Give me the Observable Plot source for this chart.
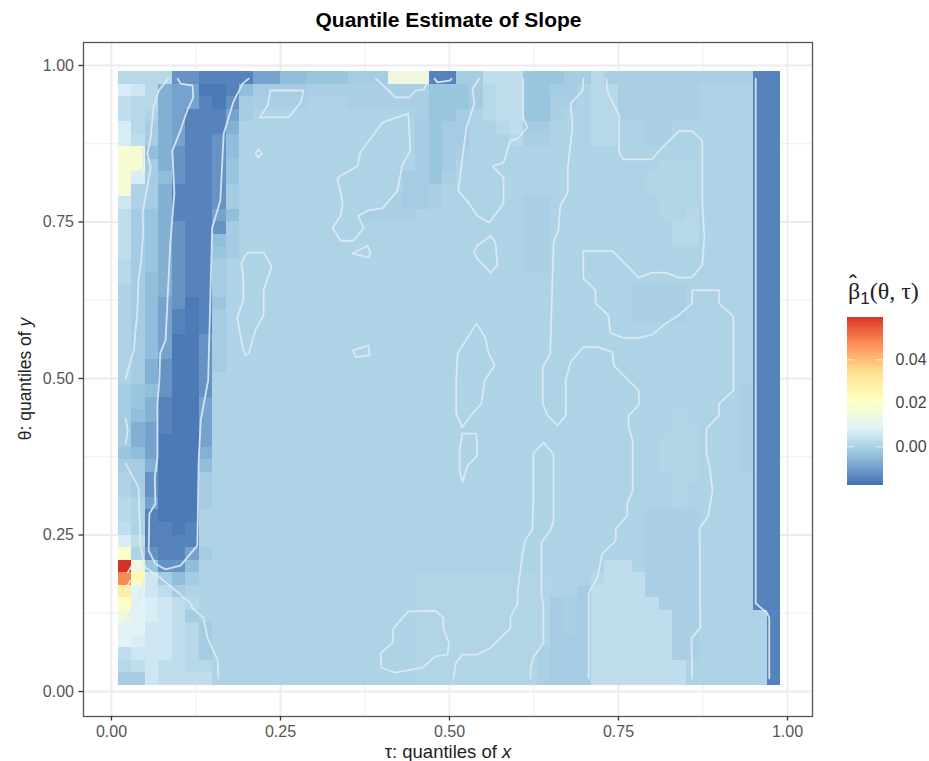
<!DOCTYPE html>
<html>
<head>
<meta charset="utf-8">
<script src="https://cdn.jsdelivr.net/npm/d3@7"></script>
<script src="https://cdn.jsdelivr.net/npm/@observablehq/plot@0.6"></script>
<style>
html,body{margin:0;padding:0;background:#fff;}
#wrap{position:relative;width:929px;height:761px;font-family:"Liberation Sans",Arial,sans-serif;overflow:hidden;}
#wrap svg{display:block;}
.lab{position:absolute;white-space:nowrap;}
</style>
</head>
<body>
<div id="wrap"></div>
<script>
// value of each shade letter used in the grid below
const levels = {A:-0.0169,B:-0.0152,C:-0.0124,D:-0.0097,E:-0.0075,F:-0.005,G:-0.0035,H:-0.0017,h:-0.0009,I:-0.0002,i:0.0003,J:0.0013,K:0.0026,L:0.0049,M:0.0066,N:0.0085,O:0.0138,o:0.0165,P:0.0192,Q:0.023,R:0.028,S:0.034,T:0.041,U:0.047,V:0.0595};
// grid, top row (theta = 0.98) to bottom row (theta = 0.02); short rows continue with "I"
const rowsLeft = [
"JJJJCCBBBBDDFF","MLJEDDAABFHHHH","KJJEDDBACHhhhh","KJIEDBBBDHIIII","MJHEDBBBEIIIII","MKHEDBBCFIIIII",
"ooFECBBCFIIIII","ooHECBBCGIIIII","oMHFCBBCGIIIII","oIHEBBBCHIIIII","LIHEBBBCHIIIII","KHGEBBBDFIIIII",
"KHGECBBCHIIIII","KHGECBBFHIIIII","KHGECBBGHIIIII","JHGECBBHIIIIII","JHFECBBHIIIIII","IHFECBBHIIIIII",
"IHFDCABGIIIIII","IHFDBABHIIIIII","IHFDBABHIIIIII","IHFDAACHIIIIII","IHFDAACHIIIIII","IHECAACHIIIIII",
"IHECAACIIIIIII","HGFCAACIIIIIII","HGEBAADIIIIIII","HFEBAADIIIIIII","HEDBAADIIIIIII","HEDAAADIIIIIII",
"GFDAAAEIIIIIII","HHEAAAFIIIIIII","IHCAAAHIIIIIII","IHCAAAHIIIIIII","JIDAAAHIIIIIII","JIBAAAIIIIIIII",
"KIBBABIIIIIIII","MKBBBBIIIIIIII","PICBBDHIIIIIII","VOGCCFIIIIIIII","UQLHFHIIIIIIII","RNLKHIIIIIIIII",
"PNMLKJIIIIIIII","ONMLKHIIIIIIII","NNLLKJHIIIIIII","NMLLKJHIIIIIII","KLLLKJHIIIIIII","JKLKKJJIIIIIII",
"HHLKKKKIIIIIII"];
const rowsMid = [
"GGGHHHOOOBBHHKKKGGGH","hhhhhhhhhGGGHJKKGGHH","IIIhhhhhhGGGHJKKGGhh","IIIIIIIIhGGHIJKKGGhI","IIIIIIIIHGHHIIJKHHII","IIIIIIIIHGHHIIIJhhII",
"IIIIIIIIHGHh","IIIIIIIIHGHI","IIIIIIIHHGh","IIIIIIIHHh","IIIIIIhHHhIIIIIIhh","IIIIhhhhIIIIIIIIhh",
"IIIIIIIIIIIIIIIIhh","IIIIIIIIIIIIIIIIhh","IIIIIIIIIIIIIIIIhh","IIIIIIIIIIIIIIIIhh","","",
"","","","","","",
"","","","","","",
"","","","","","",
"","","","","IIIIIIIIiiiiiiiiii","IIIIIIIIiiiiiiiiii",
"IIIIIIIIiiiiiiiiiiHh","IIIIIIIIiiiiiiiiiiHh","IIIIIIIIiiiiiiiiiiHh","IIIIIIIIiiiiiiiiiiHH","IIIIIIIIiiiiiiiiihHH","IIIIIIIIiiiiiiiiihHH",
"IIIIIIIIiiiiiiiiihHH"];
const rowsRight = [
"HJhhhhhhhhhhh","IJJhhhhhhIIII","IJJhhhhhhIIII","IJJhhhhhhIIII","IJJIIhhIIIIII","IJJIIhhIIIIII",
"","IIIIIIiii","IIIIIiiii","IIIIIiiii","IIIIIIiii","IIIIIIiiJ",
"IIIIIIIJJ","IIIIIIIJJ","","","","IIIIhhhh",
"IIIIhhhh","IIIIhhhh","","","","",
"","IIIIIIIIIIIIh","IIIIIIIIIIIIh","IIIIIIIiIIIIh","IIIIIIIiiIIIh","IIIIIIiiiIIIh",
"IIIIIIiiiIIIh","IIIIIIiiiIIIh","IIIIIIIii","IIIIIIIi","IIIIIIIi","IIIIIhhhh",
"IIIIIhhhh","IIIIIhhhh","IIIIIhhhh","IIKKIhhhh","IJKKKhhhh","HKKKKhhhh",
"HKKKKKhhh","HKKKKKKhh","HKKKKKKhh","HKKKKKKhh","HKKKKKKhh","HKKKKKKKI",
"HKKKKKKKI"];
// the two last columns, rows 0-42 are dark, then the inner one turns pale
const edgeDarkRows = 43;
const colorStops = [-0.0178,-0.0049,0.0080,0.0208,0.0337,0.0466,0.0595];
const colorRange = ["#4575b4","#91bfdb","#e0f3f8","#ffffbf","#fee090","#fc8d59","#d73027"];
const xTicks = [0,0.25,0.5,0.75,1];
const xMinor = [0.125,0.375,0.625,0.875];
const legendTicks = [0,0.02,0.04];

// contour paths as [tau, theta]
const cA=[[.084,.979],[.070,.960],[.062,.933],[.058,.885],[.053,.859],[.058,.837],[.046,.764],[.047,.736],[.044,.688],[.040,.657],[.038,.604],[.033,.545],[.021,.500]];
const cB=[[.021,.436],[.024,.417],[.021,.396]];
const cC=[[.021,.364],[.040,.326],[.043,.230],[.050,.198],[.072,.182],[.117,.141],[.120,.133],[.136,.118],[.142,.086],[.157,.050],[.158,.021]];
const cD=[[.098,.979],[.102,.971],[.120,.968],[.121,.949],[.112,.928],[.102,.896],[.090,.864],[.093,.796],[.087,.716],[.080,.561],[.072,.540],[.071,.500],[.068,.460],[.068,.374],[.064,.342],[.065,.300],[.056,.284],[.055,.225],[.065,.204],[.080,.195],[.102,.201],[.127,.233],[.129,.369],[.132,.433],[.143,.497],[.149,.741],[.161,.784],[.166,.891],[.180,.941],[.194,.971],[.203,.979]];
const cE=[[.235,.960],[.284,.960],[.280,.941],[.262,.917],[.219,.917],[.231,.936],[.235,.960]];
const cF=[[.217,.866],[.223,.859],[.217,.853],[.213,.859],[.217,.866]];
const cG=[[.201,.701],[.225,.701],[.237,.679],[.225,.641],[.225,.601],[.213,.577],[.203,.540],[.198,.537],[.194,.550],[.186,.597],[.195,.625],[.195,.661],[.192,.684],[.201,.701]];
const cH=[[.439,.923],[.442,.864],[.430,.840],[.423,.800],[.401,.772],[.379,.768],[.365,.760],[.373,.740],[.358,.720],[.339,.720],[.327,.741],[.339,.760],[.342,.780],[.339,.797],[.334,.819],[.339,.824],[.364,.839],[.368,.861],[.401,.909],[.439,.923]];
const cI=[[.357,.700],[.379,.712],[.383,.701],[.380,.693],[.357,.700]];
const cJ=[[.357,.545],[.380,.553],[.382,.537],[.361,.534],[.357,.545]];
const cK=[[.391,.979],[.420,.949],[.441,.949],[.450,.960],[.462,.962],[.469,.976]];
const cL=[[.478,.979],[.482,.973],[.501,.976],[.503,.979]];
const cM=[[.544,.979],[.534,.963],[.537,.939],[.525,.901],[.513,.800],[.528,.781],[.541,.760],[.559,.749],[.580,.780],[.580,.821],[.564,.839],[.580,.845],[.590,.880],[.601,.883],[.615,.901],[.609,.917],[.609,.979]];
const cN=[[.561,.728],[.568,.717],[.571,.681],[.561,.669],[.541,.692],[.536,.701],[.541,.712],[.561,.728]];
const cO=[[.698,.979],[.697,.960],[.679,.939],[.682,.901],[.675,.837],[.675,.797],[.664,.776],[.661,.736],[.654,.717],[.649,.540],[.638,.518],[.638,.460],[.645,.441],[.660,.425],[.672,.441],[.672,.497],[.679,.526],[.698,.550],[.719,.550],[.741,.542],[.743,.521],[.765,.497],[.780,.481],[.780,.457],[.765,.441],[.765,.422],[.771,.401],[.771,.321],[.763,.300],[.763,.281],[.746,.260],[.746,.241],[.726,.220],[.719,.182],[.706,.158],[.706,.021]];
const cP=[[.439,.128],[.479,.129],[.491,.118],[.491,.101],[.499,.078],[.497,.059],[.479,.056],[.460,.038],[.420,.030],[.399,.038],[.398,.061],[.416,.078],[.417,.101],[.439,.128]];
const cQ=[[.540,.588],[.553,.565],[.558,.540],[.567,.521],[.552,.497],[.547,.460],[.534,.444],[.519,.422],[.510,.444],[.510,.497],[.512,.540],[.540,.588]];
const cR=[[.519,.412],[.540,.412],[.541,.377],[.527,.361],[.519,.334],[.515,.353],[.515,.385],[.519,.412]];
const cS=[[.506,.021],[.509,.045],[.519,.059],[.541,.059],[.561,.070],[.590,.101],[.590,.118],[.601,.141],[.601,.161],[.608,.220],[.612,.241],[.623,.260],[.623,.278],[.624,.300],[.624,.380],[.639,.398],[.654,.379],[.654,.273],[.649,.257],[.636,.238],[.636,.157],[.639,.134],[.639,.078],[.624,.054],[.620,.038],[.620,.021]];
const cT=[[.732,.979],[.734,.957],[.751,.920],[.751,.861],[.757,.850],[.800,.850],[.808,.861],[.839,.895],[.859,.895],[.874,.880],[.874,.780],[.877,.725],[.874,.681],[.858,.661],[.839,.661],[.820,.669],[.800,.669],[.780,.661],[.741,.704],[.698,.704],[.698,.660],[.716,.641],[.716,.620],[.735,.601],[.738,.573],[.757,.565],[.780,.565],[.800,.570],[.820,.588],[.839,.601],[.859,.620],[.859,.641],[.899,.641],[.899,.620],[.920,.599],[.920,.481],[.899,.460],[.899,.441],[.880,.420],[.880,.380],[.885,.358],[.889,.321],[.883,.281],[.870,.260],[.871,.102],[.858,.085],[.859,.021]];
const cU=[[.953,.979],[.953,.141],[.970,.125],[.973,.118],[.973,.021]];
const cV=[[.021,.113],[.038,.141],[.050,.181]];
const cW=[[.021,.165],[.028,.177]];
const cX=[[.024,.190],[.030,.201]];
const cY=[[.033,.824],[.047,.837],[.047,.869]];
const contours=[cA,cB,cC,cD,cE,cF,cG,cH,cI,cJ,cK,cL,cM,cN,cO,cP,cQ,cR,cS,cT,cU,cV,cW,cX,cY];

const cells=[];
rowsLeft.forEach((l,r)=>{
  const row=l.padEnd(14,"I")+rowsMid[r].padEnd(20,"I")+rowsRight[r].padEnd(13,"I")+(r<edgeDarkRows?"BB":"IB");
  [...row].forEach((ch,c)=>{
    const tau=0.02+0.02*c, theta=0.98-0.02*r;
    cells.push({x1:tau-0.01,x2:tau+0.01,y1:theta-0.01,y2:theta+0.01,v:levels[ch]});
  });
});
const contourPts=contours.flatMap((c,k)=>c.map(p=>({t:p[0],h:p[1],k})));
const colorScale={type:"linear",domain:colorStops,range:colorRange,interpolate:"lab",clamp:true};

const main=Plot.plot({
  width:929,height:761,marginLeft:83,marginRight:117,marginTop:42,marginBottom:45,
  style:{background:"transparent",fontFamily:"'Liberation Sans',Arial,sans-serif"},
  x:{domain:[-0.0414,1.037],label:null},
  y:{domain:[-0.0399,1.0367],label:null},
  color:colorScale,
  marks:[
    Plot.gridX(xMinor,{stroke:"#efeff2",strokeWidth:1,strokeOpacity:1}),
    Plot.gridY(xMinor,{stroke:"#efeff2",strokeWidth:1,strokeOpacity:1}),
    Plot.gridX(xTicks,{stroke:"#ecebf0",strokeWidth:1.8,strokeOpacity:1}),
    Plot.gridY(xTicks,{stroke:"#ecebf0",strokeWidth:1.8,strokeOpacity:1}),
    Plot.rect(cells,{x1:"x1",x2:"x2",y1:"y1",y2:"y2",fill:"v",shapeRendering:"crispEdges",imageFilter:"blur(0.5px)"}),
    Plot.line(contourPts,{x:"t",y:"h",z:"k",stroke:"#dfeaf3",strokeWidth:1.8,strokeOpacity:.9,curve:"linear",imageFilter:"blur(0.3px)"}),
    Plot.frame({stroke:"#555",strokeWidth:1.3}),
    Plot.axisX(xTicks,{tickFormat:d3.format(".2f"),tickSize:4.5,tickPadding:5,stroke:"#333",strokeWidth:1.3,label:null,fontSize:16,color:"#555"}),
    Plot.axisY(xTicks,{tickFormat:d3.format(".2f"),tickSize:4.5,tickPadding:5,stroke:"#333",strokeWidth:1.3,label:null,fontSize:16,color:"#555"})
  ]
});
const wrap=document.getElementById("wrap");
wrap.appendChild(main);

// legend colour bar
const legendBands=d3.range(0,84).map(i=>colorStops[0]+(colorStops[6]-colorStops[0])*i/84);
const bandStep=(colorStops[6]-colorStops[0])/84;
const legend=Plot.plot({
  width:82,height:168,marginLeft:0,marginRight:46,marginTop:0,marginBottom:0,
  style:{background:"transparent",fontFamily:"'Liberation Sans',Arial,sans-serif",overflow:"visible"},
  x:{domain:[0,1],axis:null},
  y:{domain:[colorStops[0],colorStops[6]],label:null},
  color:colorScale,
  marks:[
    Plot.rect(legendBands,{x1:0,x2:1,y1:d=>d,y2:d=>d+bandStep,fill:d=>d,shapeRendering:"crispEdges"}),
    Plot.ruleY(legendTicks,{x1:0,x2:.2,stroke:"#fff",strokeOpacity:.7}),
    Plot.ruleY(legendTicks,{x1:.8,x2:1,stroke:"#fff",strokeOpacity:.7}),
    Plot.axisY(legendTicks,{anchor:"right",tickFormat:d3.format(".2f"),tickSize:0,tickPadding:12,label:null,fontSize:16,color:"#444"})
  ]
});
legend.style.position="absolute";legend.style.left="847px";legend.style.top="316.5px";
wrap.appendChild(legend);

function label(html,css){const d=document.createElement("div");d.className="lab";d.innerHTML=html;d.style.cssText+=css;wrap.appendChild(d);}
label("Quantile Estimate of Slope","left:448.5px;top:8px;transform:translateX(-50%);font-weight:bold;font-size:21px;color:#000;");
label("τ: quantiles of <i>x</i>","left:448px;top:741px;transform:translateX(-50%);font-size:18.5px;color:#222;");
label("θ: quantiles of <i>y</i>","left:25px;top:379px;transform:translate(-50%,-50%) rotate(-90deg);font-size:17.5px;color:#222;");
label("<span style='position:relative'>β<span style='position:absolute;left:1px;top:-8px;font-family:\"Liberation Sans\"'>ˆ</span></span><sub style=\"font-family:'Liberation Sans';font-size:17px;vertical-align:-5px;line-height:0\">1</sub>(θ, τ)","left:848px;top:278px;font-family:'Liberation Serif',serif;font-size:24px;color:#222;");
</script>
</body>
</html>
